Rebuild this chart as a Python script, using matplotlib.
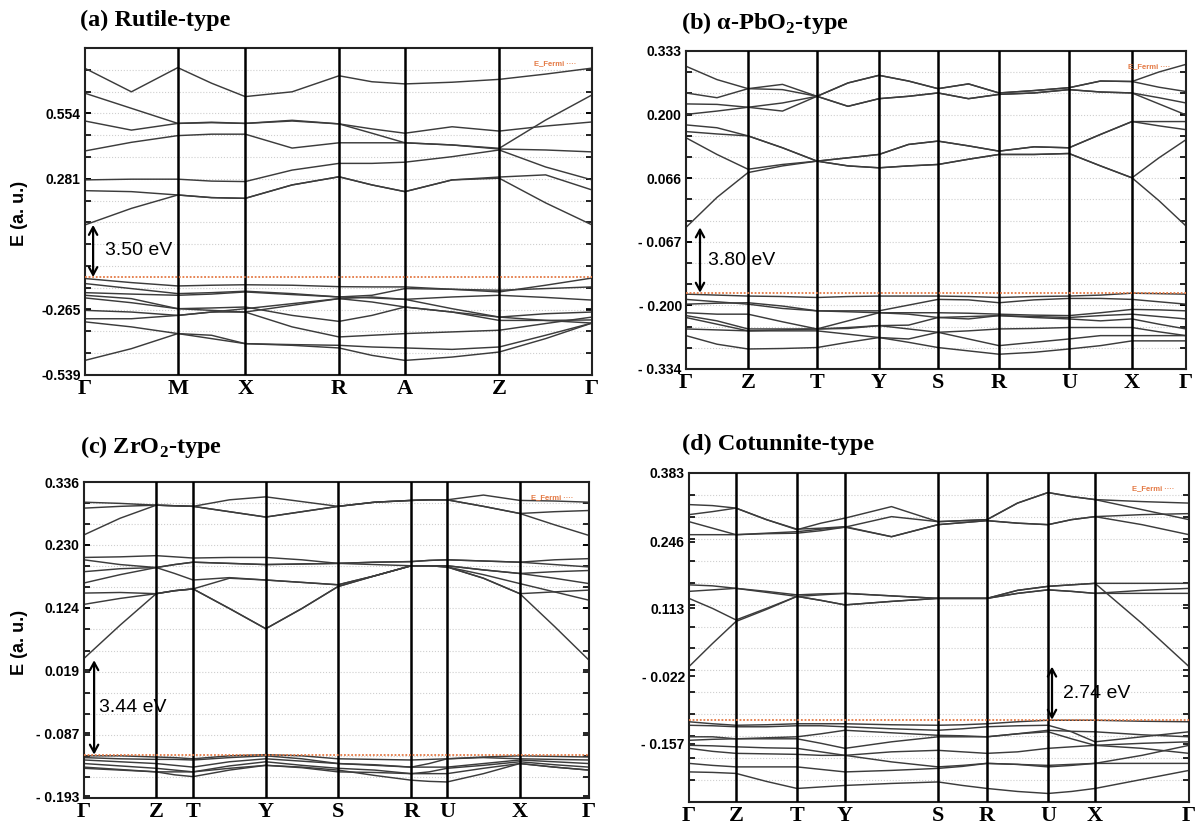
import numpy as np
import matplotlib
matplotlib.use("Agg")
import matplotlib.pyplot as plt

plt.rcParams["mathtext.fontset"] = "custom"
plt.rcParams["mathtext.rm"] = "Liberation Serif"
plt.rcParams["mathtext.bf"] = "Liberation Serif:bold"

# ─── Data (energies in a.u., sampled at each k-node and segment midpoint) ────

# (a) Rutile-type
A_NODES  = [0, 0.183, 0.316, 0.501, 0.631, 0.817, 1.0]
A_LABELS = ["Γ", "M", "X", "R", "A", "Z", "Γ"]
A_EF     = -0.130
A_YTICKS = [0.554, 0.281, -0.265, -0.539]
A_YTL    = ["0.554", "0.281", "-0.265", "-0.539"]
A_YLIM   = (-0.539, 0.827)
A_CB = [
    [0.742, 0.644, 0.745, 0.680, 0.624, 0.644, 0.711, 0.686, 0.677, 0.684, 0.696, 0.718, 0.743],
    [0.638, 0.575, 0.512, 0.517, 0.512, 0.525, 0.510, 0.489, 0.471, 0.498, 0.480, 0.501, 0.518],
    [0.522, 0.484, 0.512, 0.515, 0.512, 0.522, 0.510, 0.471, 0.431, 0.422, 0.408, 0.526, 0.631],
    [0.397, 0.433, 0.461, 0.467, 0.467, 0.409, 0.431, 0.431, 0.431, 0.422, 0.405, 0.401, 0.393],
    [0.276, 0.279, 0.279, 0.271, 0.269, 0.317, 0.345, 0.345, 0.350, 0.373, 0.401, 0.330, 0.276],
    [0.231, 0.227, 0.213, 0.202, 0.199, 0.255, 0.289, 0.255, 0.227, 0.276, 0.288, 0.297, 0.234],
    [0.088, 0.157, 0.213, 0.202, 0.199, 0.255, 0.289, 0.255, 0.227, 0.276, 0.283, 0.180, 0.088],
]
A_VB = [
    [-0.136, -0.153, -0.167, -0.164, -0.162, -0.164, -0.170, -0.171, -0.171, -0.181, -0.192, -0.164, -0.134],
    [-0.157, -0.178, -0.199, -0.195, -0.189, -0.199, -0.213, -0.206, -0.178, -0.181, -0.185, -0.178, -0.171],
    [-0.195, -0.201, -0.206, -0.201, -0.192, -0.203, -0.213, -0.217, -0.223, -0.213, -0.206, -0.215, -0.226],
    [-0.206, -0.220, -0.262, -0.259, -0.255, -0.290, -0.315, -0.290, -0.255, -0.276, -0.297, -0.283, -0.276],
    [-0.217, -0.237, -0.262, -0.269, -0.276, -0.338, -0.380, -0.373, -0.366, -0.359, -0.352, -0.324, -0.297],
    [-0.269, -0.276, -0.290, -0.276, -0.262, -0.241, -0.220, -0.234, -0.255, -0.276, -0.311, -0.311, -0.309],
    [-0.304, -0.304, -0.290, -0.276, -0.276, -0.248, -0.220, -0.213, -0.223, -0.262, -0.297, -0.311, -0.322],
    [-0.317, -0.338, -0.366, -0.387, -0.408, -0.415, -0.426, -0.457, -0.478, -0.464, -0.443, -0.387, -0.322],
    [-0.478, -0.429, -0.366, -0.373, -0.408, -0.412, -0.415, -0.422, -0.426, -0.432, -0.422, -0.373, -0.322],
]

# (b) alpha-PbO2-type
B_NODES  = [0, 0.124, 0.262, 0.386, 0.504, 0.626, 0.766, 0.892, 1.0]
B_LABELS = ["Γ", "Z", "T", "Y", "S", "R", "U", "X", "Γ"]
B_EF     = -0.174
B_YTICKS = [0.333, 0.200, 0.066, -0.067, -0.200, -0.334]
B_YTL    = ["0.333", "0.200", "0.066", "- 0.067", "- 0.200", "- 0.334"]
B_YLIM   = (-0.334, 0.333)
B_CB = [
    [0.301, 0.273, 0.254, 0.263, 0.238, 0.266, 0.282, 0.270, 0.254, 0.264, 0.245, 0.250, 0.256, 0.270, 0.269, 0.289, 0.305],
    [0.245, 0.235, 0.254, 0.252, 0.238, 0.217, 0.233, 0.238, 0.245, 0.233, 0.242, 0.245, 0.252, 0.247, 0.245, 0.235, 0.224],
    [0.222, 0.221, 0.215, 0.207, 0.238, 0.217, 0.233, 0.238, 0.245, 0.233, 0.242, 0.245, 0.252, 0.247, 0.245, 0.222, 0.199],
    [0.200, 0.207, 0.215, 0.224, 0.238, 0.266, 0.282, 0.270, 0.254, 0.264, 0.245, 0.250, 0.256, 0.270, 0.269, 0.257, 0.248],
    [0.178, 0.172, 0.155, 0.130, 0.102, 0.109, 0.116, 0.137, 0.144, 0.134, 0.123, 0.132, 0.130, 0.158, 0.185, 0.185, 0.185],
    [0.164, 0.159, 0.155, 0.130, 0.102, 0.092, 0.088, 0.092, 0.095, 0.106, 0.116, 0.116, 0.118, 0.092, 0.067, 0.019, -0.034],
    [0.151, 0.116, 0.085, 0.095, 0.102, 0.109, 0.116, 0.137, 0.144, 0.134, 0.123, 0.132, 0.130, 0.158, 0.185, 0.176, 0.168],
    [-0.037, 0.026, 0.078, 0.092, 0.102, 0.092, 0.088, 0.092, 0.095, 0.106, 0.116, 0.116, 0.118, 0.092, 0.067, 0.109, 0.147],
]
B_VB = [
    [-0.177, -0.179, -0.181, -0.182, -0.184, -0.182, -0.181, -0.181, -0.181, -0.182, -0.184, -0.182, -0.181, -0.179, -0.175, -0.176, -0.177],
    [-0.188, -0.193, -0.198, -0.207, -0.212, -0.212, -0.212, -0.200, -0.188, -0.189, -0.195, -0.189, -0.186, -0.186, -0.188, -0.193, -0.198],
    [-0.198, -0.196, -0.195, -0.202, -0.212, -0.214, -0.216, -0.216, -0.216, -0.217, -0.219, -0.221, -0.222, -0.216, -0.209, -0.210, -0.212],
    [-0.216, -0.219, -0.219, -0.235, -0.250, -0.233, -0.216, -0.219, -0.226, -0.224, -0.222, -0.224, -0.226, -0.222, -0.219, -0.224, -0.229],
    [-0.222, -0.233, -0.250, -0.250, -0.250, -0.247, -0.243, -0.242, -0.226, -0.229, -0.222, -0.226, -0.229, -0.233, -0.229, -0.240, -0.250],
    [-0.226, -0.240, -0.254, -0.252, -0.250, -0.249, -0.243, -0.250, -0.257, -0.254, -0.250, -0.249, -0.247, -0.247, -0.247, -0.256, -0.264],
    [-0.250, -0.252, -0.254, -0.254, -0.254, -0.261, -0.268, -0.271, -0.257, -0.271, -0.285, -0.278, -0.271, -0.264, -0.264, -0.264, -0.264],
    [-0.264, -0.282, -0.292, -0.291, -0.289, -0.278, -0.268, -0.278, -0.289, -0.296, -0.303, -0.299, -0.292, -0.285, -0.275, -0.275, -0.275],
]

# (c) ZrO2-type
C_NODES  = [0, 0.143, 0.216, 0.360, 0.503, 0.648, 0.719, 0.863, 1.0]
C_LABELS = ["Γ", "Z", "T", "Y", "S", "R", "U", "X", "Γ"]
C_EF     = -0.123
C_YTICKS = [0.336, 0.230, 0.124, 0.019, -0.087, -0.193]
C_YTL    = ["0.336", "0.230", "0.124", "0.019", "- 0.087", "- 0.193"]
C_YLIM   = (-0.196, 0.336)
C_CB = [
    [0.302, 0.300, 0.297, 0.296, 0.295, 0.306, 0.311, 0.303, 0.295, 0.302, 0.305, 0.306, 0.306, 0.314, 0.305, 0.304, 0.302],
    [0.292, 0.295, 0.297, 0.296, 0.295, 0.286, 0.277, 0.286, 0.295, 0.302, 0.305, 0.306, 0.306, 0.295, 0.283, 0.286, 0.288],
    [0.247, 0.275, 0.297, 0.296, 0.295, 0.286, 0.277, 0.286, 0.295, 0.302, 0.305, 0.306, 0.306, 0.295, 0.283, 0.264, 0.246],
    [0.209, 0.210, 0.212, 0.210, 0.208, 0.209, 0.209, 0.205, 0.199, 0.201, 0.202, 0.204, 0.205, 0.203, 0.201, 0.205, 0.207],
    [0.205, 0.197, 0.192, 0.197, 0.201, 0.199, 0.197, 0.198, 0.199, 0.201, 0.202, 0.204, 0.205, 0.203, 0.201, 0.197, 0.193],
    [0.185, 0.190, 0.192, 0.197, 0.201, 0.199, 0.197, 0.198, 0.199, 0.197, 0.195, 0.195, 0.195, 0.188, 0.182, 0.185, 0.187],
    [0.166, 0.180, 0.192, 0.182, 0.171, 0.175, 0.171, 0.167, 0.163, 0.178, 0.195, 0.195, 0.195, 0.188, 0.182, 0.174, 0.165],
    [0.149, 0.150, 0.148, 0.153, 0.156, 0.123, 0.089, 0.123, 0.160, 0.178, 0.195, 0.195, 0.193, 0.174, 0.148, 0.151, 0.154],
    [0.130, 0.140, 0.148, 0.153, 0.156, 0.174, 0.171, 0.167, 0.163, 0.178, 0.195, 0.195, 0.193, 0.180, 0.165, 0.151, 0.137],
    [0.039, 0.095, 0.148, 0.153, 0.156, 0.123, 0.089, 0.123, 0.160, 0.178, 0.195, 0.195, 0.193, 0.174, 0.148, 0.093, 0.036],
]
C_VB = [
    [-0.125, -0.125, -0.127, -0.128, -0.130, -0.125, -0.123, -0.125, -0.130, -0.131, -0.132, -0.131, -0.130, -0.127, -0.125, -0.126, -0.127],
    [-0.128, -0.130, -0.131, -0.131, -0.132, -0.128, -0.125, -0.130, -0.138, -0.140, -0.144, -0.138, -0.130, -0.128, -0.130, -0.131, -0.132],
    [-0.132, -0.135, -0.138, -0.141, -0.144, -0.135, -0.130, -0.134, -0.138, -0.141, -0.144, -0.144, -0.144, -0.138, -0.132, -0.135, -0.138],
    [-0.138, -0.142, -0.146, -0.149, -0.152, -0.142, -0.135, -0.141, -0.146, -0.149, -0.155, -0.152, -0.146, -0.141, -0.135, -0.140, -0.144],
    [-0.144, -0.148, -0.152, -0.157, -0.160, -0.149, -0.141, -0.144, -0.149, -0.158, -0.166, -0.168, -0.169, -0.155, -0.138, -0.144, -0.149],
    [-0.146, -0.149, -0.152, -0.152, -0.152, -0.146, -0.141, -0.145, -0.152, -0.153, -0.155, -0.155, -0.155, -0.146, -0.138, -0.144, -0.149],
]

# (d) Cotunnite-type
D_NODES  = [0, 0.094, 0.216, 0.312, 0.498, 0.596, 0.718, 0.812, 1.0]
D_LABELS = ["Γ", "Z", "T", "Y", "S", "R", "U", "X", "Γ"]
D_EF     = -0.109
D_YTICKS = [0.383, 0.246, 0.113, -0.022, -0.157]
D_YTL    = ["0.383", "0.246", "0.113", "- 0.022", "- 0.157"]
D_YLIM   = (-0.273, 0.383)
D_CB = [
    [0.320, 0.318, 0.313, 0.290, 0.270, 0.283, 0.293, 0.316, 0.286, 0.288, 0.290, 0.323, 0.344, 0.336, 0.330, 0.326, 0.323],
    [0.300, 0.306, 0.313, 0.290, 0.271, 0.273, 0.276, 0.256, 0.280, 0.284, 0.288, 0.283, 0.280, 0.290, 0.296, 0.300, 0.302],
    [0.286, 0.273, 0.260, 0.263, 0.266, 0.271, 0.275, 0.296, 0.286, 0.288, 0.290, 0.323, 0.344, 0.336, 0.330, 0.310, 0.290],
    [0.260, 0.260, 0.260, 0.262, 0.263, 0.268, 0.275, 0.256, 0.280, 0.284, 0.288, 0.283, 0.280, 0.290, 0.296, 0.280, 0.260],
    [0.160, 0.158, 0.153, 0.147, 0.140, 0.142, 0.143, 0.138, 0.133, 0.133, 0.133, 0.149, 0.157, 0.160, 0.163, 0.163, 0.163],
    [0.147, 0.150, 0.153, 0.145, 0.137, 0.129, 0.120, 0.127, 0.133, 0.133, 0.133, 0.143, 0.150, 0.147, 0.143, 0.149, 0.153],
    [0.133, 0.113, 0.090, 0.113, 0.137, 0.129, 0.120, 0.127, 0.133, 0.133, 0.133, 0.143, 0.150, 0.147, 0.143, 0.143, 0.143],
    [-0.003, 0.043, 0.087, 0.111, 0.137, 0.140, 0.143, 0.138, 0.133, 0.133, 0.133, 0.149, 0.157, 0.160, 0.163, 0.083, -0.003],
]
D_VB = [
    [-0.113, -0.117, -0.120, -0.119, -0.117, -0.117, -0.117, -0.119, -0.120, -0.119, -0.117, -0.113, -0.110, -0.110, -0.110, -0.112, -0.113],
    [-0.120, -0.121, -0.123, -0.123, -0.121, -0.121, -0.123, -0.127, -0.130, -0.127, -0.123, -0.121, -0.120, -0.133, -0.153, -0.143, -0.133],
    [-0.143, -0.143, -0.147, -0.145, -0.143, -0.137, -0.130, -0.135, -0.140, -0.141, -0.143, -0.137, -0.130, -0.132, -0.133, -0.139, -0.143],
    [-0.150, -0.148, -0.147, -0.147, -0.147, -0.156, -0.166, -0.153, -0.143, -0.143, -0.143, -0.137, -0.133, -0.147, -0.160, -0.156, -0.153],
    [-0.160, -0.161, -0.163, -0.165, -0.166, -0.173, -0.180, -0.193, -0.203, -0.200, -0.196, -0.198, -0.203, -0.200, -0.196, -0.180, -0.160],
    [-0.166, -0.172, -0.176, -0.177, -0.178, -0.180, -0.180, -0.173, -0.170, -0.173, -0.176, -0.173, -0.166, -0.163, -0.160, -0.166, -0.176],
    [-0.196, -0.200, -0.203, -0.203, -0.203, -0.208, -0.213, -0.210, -0.206, -0.202, -0.196, -0.198, -0.200, -0.198, -0.196, -0.196, -0.196],
    [-0.213, -0.214, -0.216, -0.232, -0.246, -0.243, -0.240, -0.236, -0.233, -0.240, -0.246, -0.252, -0.256, -0.252, -0.246, -0.228, -0.210],
]

GAP_LABELS = ["3.50 eV", "3.80 eV", "3.44 eV", "2.74 eV"]


# ─── Helpers ─────────────────────────────────────────────────────────────────

def kgrid(nodes):
    """Node positions interleaved with segment midpoints."""
    xs = []
    for a, b in zip(nodes[:-1], nodes[1:]):
        xs += [a, 0.5 * (a + b)]
    xs.append(nodes[-1])
    return np.array(xs)


BAND_COLOR  = "#3c3c3c"
FERMI_COLOR = "#e47a45"

panels = [
    dict(rect=[85, 48, 592, 375], title="(a) Rutile-type", tpos=(80, 10),
         nodes=A_NODES, labels=A_LABELS, ef=A_EF, yt=A_YTICKS, ytl=A_YTL, ylim=A_YLIM,
         cb=A_CB, vb=A_VB, gap=GAP_LABELS[0], ax_x=0.016, tx=0.040, ylab=True),
    dict(rect=[686, 51, 1186, 369], title=r"(b) α-PbO$_\mathbf{2}$-type", tpos=(681, 10),
         nodes=B_NODES, labels=B_LABELS, ef=B_EF, yt=B_YTICKS, ytl=B_YTL, ylim=B_YLIM,
         cb=B_CB, vb=B_VB, gap=GAP_LABELS[1], ax_x=0.028, tx=0.044, ylab=False),
    dict(rect=[84, 482, 589, 798], title=r"(c) ZrO$_\mathbf{2}$-type", tpos=(80, 434),
         nodes=C_NODES, labels=C_LABELS, ef=C_EF, yt=C_YTICKS, ytl=C_YTL, ylim=C_YLIM,
         cb=C_CB, vb=C_VB, gap=GAP_LABELS[2], ax_x=0.020, tx=0.030, ylab=True),
    dict(rect=[689, 473, 1189, 802], title="(d) Cotunnite-type", tpos=(682, 434),
         nodes=D_NODES, labels=D_LABELS, ef=D_EF, yt=D_YTICKS, ytl=D_YTL, ylim=D_YLIM,
         cb=D_CB, vb=D_VB, gap=GAP_LABELS[3], ax_x=D_NODES[6] + 0.008, tx=D_NODES[6] + 0.030,
         ylab=False),
]

W, H = 1196, 831
fig = plt.figure(figsize=(W / 100, H / 100), dpi=100)
fig.patch.set_facecolor("white")

for p in panels:
    x0, y0, x1, y1 = p["rect"]
    ax = fig.add_axes([x0 / W, 1 - y1 / H, (x1 - x0) / W, (y1 - y0) / H])
    x = kgrid(p["nodes"])
    ylo, yhi = p["ylim"]

    # faint dotted grid
    for yy in np.linspace(ylo, yhi, 16)[1:-1]:
        ax.axhline(yy, color="#cfcfcf", lw=0.8, ls=":", zorder=0)

    for band in p["cb"] + p["vb"]:
        ax.plot(x, band, color=BAND_COLOR, lw=1.05, solid_joinstyle="round", zorder=2)

    for k in p["nodes"][1:-1]:
        ax.axvline(k, color="black", lw=1.8, zorder=3)

    ax.axhline(p["ef"], color=FERMI_COLOR, lw=1.3, ls=(0, (1, 1)), zorder=4)

    # band gap arrow (conduction band minimum -> Fermi level)
    cbm = min(min(b) for b in p["cb"])
    ax.annotate("", xy=(p["ax_x"], p["ef"]), xytext=(p["ax_x"], cbm),
                arrowprops=dict(arrowstyle="<->,head_length=0.55,head_width=0.3",
                                lw=1.6, color="black", shrinkA=0, shrinkB=0), zorder=5)
    ax.text(p["tx"], 0.5 * (cbm + p["ef"]), p["gap"], fontsize=14,
            family="Liberation Sans", va="center", ha="left", zorder=5)

    ax.text(0.885, 0.952, "E_Fermi ····", transform=ax.transAxes, color=FERMI_COLOR,
            fontsize=5.5, fontweight="bold", va="center", family="Liberation Sans")

    ax.set_xlim(0, 1)
    ax.set_ylim(ylo, yhi)
    ax.set_xticks(p["nodes"])
    ax.set_xticklabels(p["labels"], family="Liberation Serif", fontweight="bold", fontsize=16)
    ax.set_yticks(p["yt"])
    ax.set_yticklabels(p["ytl"], family="Liberation Sans", fontweight="bold", fontsize=10)
    ax.set_yticks(np.linspace(ylo, yhi, 16)[1:-1], minor=True)
    ax.tick_params(axis="y", which="both", direction="in", right=True, length=4,
                   width=1.2, pad=3)
    ax.tick_params(axis="x", length=0, pad=3)
    for s in ax.spines.values():
        s.set_linewidth(1.5)
        s.set_color("#222222")

    fig.text(p["tpos"][0] / W, 1 - p["tpos"][1] / H, p["title"], family="Liberation Serif",
             fontweight="bold", fontsize=17.5, va="top", ha="left")
    if p["ylab"]:
        fig.text(20 / W, 1 - (0.5 * (y0 + y1) + 2) / H, "E (a. u.)", rotation=90,
                 family="Liberation Sans", fontweight="bold", fontsize=13,
                 va="center", ha="center")

fig.savefig("out.png", dpi=100)
